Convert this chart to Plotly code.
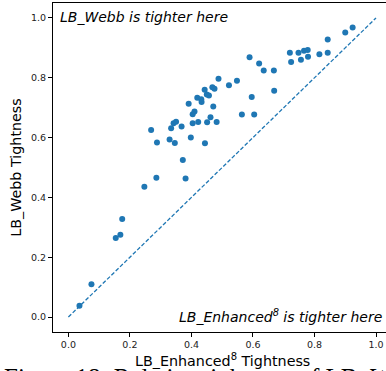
import plotly.graph_objects as go

enhanced = [0.036, 0.075, 0.154, 0.169, 0.175, 0.247, 0.286, 0.381, 0.372,
            0.269, 0.288, 0.329, 0.346, 0.334, 0.342, 0.350, 0.368, 0.398, 0.444,
            0.391, 0.404, 0.410, 0.404, 0.422, 0.419, 0.432, 0.433, 0.443, 0.450,
            0.457, 0.471, 0.451, 0.462, 0.482, 0.468, 0.475, 0.488, 0.522, 0.548,
            0.564, 0.596, 0.604,
            0.589, 0.620, 0.635, 0.668, 0.669, 0.720, 0.724, 0.748, 0.756, 0.766,
            0.778, 0.779, 0.816, 0.843, 0.843, 0.900, 0.924]
webb = [0.038, 0.110, 0.264, 0.275, 0.328, 0.436, 0.466, 0.463, 0.525,
        0.625, 0.584, 0.594, 0.582, 0.631, 0.648, 0.653, 0.637, 0.600, 0.581,
        0.713, 0.678, 0.687, 0.648, 0.652, 0.733, 0.728, 0.719, 0.760, 0.744,
        0.741, 0.704, 0.651, 0.668, 0.652, 0.768, 0.763, 0.797, 0.775, 0.790,
        0.677, 0.736, 0.677,
        0.869, 0.848, 0.824, 0.824, 0.757, 0.884, 0.853, 0.884, 0.860, 0.890,
        0.893, 0.870, 0.879, 0.884, 0.928, 0.951, 0.968]
diag = [0.0, 1.0]
ticks = [0.0, 0.2, 0.4, 0.6, 0.8, 1.0]
tick_labels = ["0.0", "0.2", "0.4", "0.6", "0.8", "1.0"]

blue = "#1f77b4"
fig = go.Figure()
fig.add_trace(go.Scatter(x=diag, y=diag, mode="lines",
                         line=dict(color=blue, width=1.3, dash="4px,2px"),
                         hoverinfo="skip", showlegend=False))
fig.add_trace(go.Scatter(x=enhanced, y=webb, mode="markers",
                         marker=dict(color=blue, size=6, line=dict(width=0)),
                         showlegend=False))

font = "DejaVu Sans"
axis_common = dict(showgrid=False, zeroline=False, showline=True, linecolor="black",
                   linewidth=1, ticks="outside", ticklen=4, tickwidth=1, tickcolor="black",
                   tickvals=ticks, ticktext=tick_labels,
                   tickfont=dict(family=font, size=9.5, color="#222"))
fig.update_layout(
    width=386, height=371,
    margin=dict(l=53, r=0, t=3, b=39),
    paper_bgcolor="white", plot_bgcolor="white",
    xaxis=dict(range=[-0.05, 1.0325], mirror=True, **axis_common),
    yaxis=dict(range=[-0.05, 1.05], mirror=False,
               title=dict(text="LB_Webb Tightness", font=dict(family=font, size=14.3, color="black"),
                          standoff=5),
               **axis_common),
    annotations=[
        dict(text="Figure 18: Relative tightness of LB_Webb and LB_Enhanced", xref="paper", yref="paper",
             x=0, xshift=-51, y=0, yshift=-29.5, xanchor="left", yanchor="top",
             showarrow=False, font=dict(family="Liberation Serif", size=25, color="black")),
        dict(text="LB_Enhanced<sup>8</sup> Tightness", xref="paper", yref="paper",
             x=(222 - 53) / 333, y=0, yshift=-28, xanchor="center", yanchor="middle",
             showarrow=False, font=dict(family=font, size=14.3, color="black")),
        dict(text="<i>LB_Webb is tighter here</i>", xref="paper", yref="paper",
             x=0, xshift=5, y=1, yshift=-14, xanchor="left", yanchor="middle",
             showarrow=False, font=dict(family=font, size=14, color="black")),
        dict(text="<i>LB_Enhanced<sup>8</sup> is tighter here</i>", xref="paper", yref="paper",
             x=1, xshift=-2, y=0, yshift=16, xanchor="right", yanchor="middle",
             showarrow=False, font=dict(family=font, size=14, color="black")),
    ],
)
fig.write_html("out.html")
